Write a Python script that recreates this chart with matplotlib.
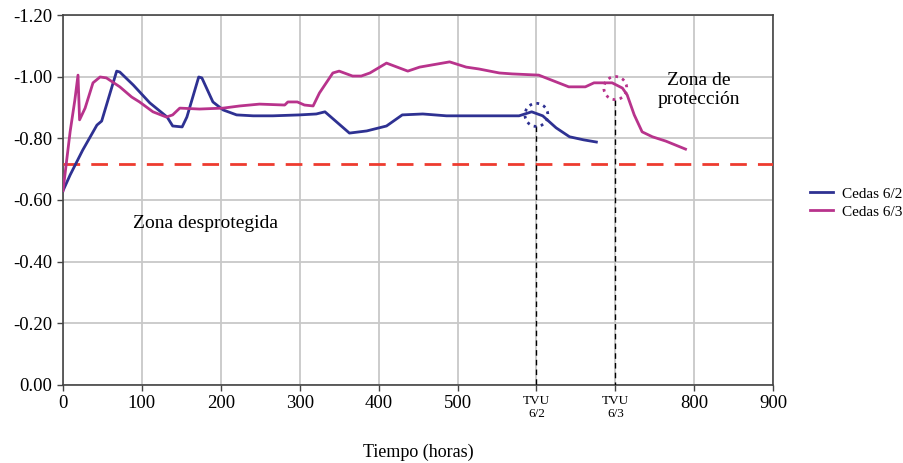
import numpy as np
import matplotlib
matplotlib.use('Agg')
import matplotlib.pyplot as plt
from matplotlib.patches import Ellipse

plt.rcParams['font.family'] = ['Liberation Serif', 'DejaVu Serif']

# Cedas 6/2 (potential vs time)
hours_62 = [0, 9, 25, 43, 49, 68, 72, 89, 110, 132, 139, 151, 157, 172, 176, 190, 203,
            220, 241, 266, 300, 321, 332, 363, 385, 410, 430, 456, 486, 578, 594, 608,
            625, 642, 660, 676]
pot_62 = [-0.63, -0.681, -0.762, -0.843, -0.856, -1.018, -1.015, -0.973, -0.915, -0.869,
          -0.840, -0.837, -0.869, -0.999, -0.996, -0.918, -0.892, -0.876, -0.873, -0.873,
          -0.876, -0.879, -0.886, -0.817, -0.824, -0.840, -0.876, -0.879, -0.873, -0.873,
          -0.886, -0.873, -0.834, -0.805, -0.795, -0.788]

# Cedas 6/3
hours_63 = [0, 9, 15, 19, 21, 28, 38, 47, 55, 72, 87, 97, 114, 131, 139, 148, 173, 203,
            224, 249, 281, 285, 297, 306, 317, 325, 342, 350, 367, 378, 389, 410, 437,
            452, 490, 511, 527, 553, 569, 603, 625, 641, 662, 673, 696, 709, 715, 724,
            734, 747, 764, 789]
pot_63 = [-0.63, -0.821, -0.924, -1.005, -0.860, -0.898, -0.980, -0.999, -0.996, -0.967,
          -0.934, -0.918, -0.886, -0.869, -0.876, -0.898, -0.895, -0.898, -0.905, -0.911,
          -0.908, -0.918, -0.918, -0.908, -0.905, -0.947, -1.012, -1.018, -1.002, -1.002,
          -1.012, -1.044, -1.018, -1.031, -1.048, -1.031, -1.025, -1.012, -1.009, -1.005,
          -0.983, -0.967, -0.967, -0.980, -0.980, -0.963, -0.941, -0.876, -0.821, -0.805,
          -0.791, -0.765]

threshold = -0.717
tvu_hours = [600, 700]
tvu_values = [-0.876, -0.963]
tvu_labels = ['TVU\n6/2', 'TVU\n6/3']

blue = '#2E3192'
magenta = '#B8338C'

fig = plt.figure(figsize=(9.04, 4.63), dpi=100)
ax = fig.add_axes([0.0697, 0.1685, 0.7855, 0.7991])

ax.plot(hours_62, pot_62, color=blue, lw=2, label='Cedas 6/2', zorder=4)
ax.plot(hours_63, pot_63, color=magenta, lw=2, label='Cedas 6/3', zorder=4)
ax.axhline(threshold, color='#EE3B2F', lw=2, dashes=(6, 4), zorder=3)

# TVU markers: dotted circles and dashed drop lines
for h, v, c in zip(tvu_hours, tvu_values, [blue, magenta]):
    ax.add_patch(Ellipse((h, v), 29, 0.075, fill=False, ec=c, lw=2,
                         linestyle=(0, (1, 1.6)), zorder=5))
    ax.plot([h, h], [v + 0.0375, 0], color='black', lw=1, dashes=(4, 3), zorder=4)

ax.set_xlim(0, 900)
ax.set_ylim(0, -1.2)
xt = np.arange(0, 1000, 100)
ax.set_xticks(xt)
labels = [str(t) for t in xt]
for h, lab in zip(tvu_hours, tvu_labels):
    labels[list(xt).index(h)] = lab
ax.set_xticklabels(labels)
for t in ax.get_xticklabels():
    if 'TVU' in t.get_text():
        t.set_fontsize(9.5)
        t.set_linespacing(1.1)
    else:
        t.set_fontsize(13.5)
yt = [0, -0.2, -0.4, -0.6, -0.8, -1.0, -1.2]
ax.set_yticks(yt)
ax.set_yticklabels(['%.2f' % abs(v) if v == 0 else '%.2f' % v for v in yt], fontsize=13.5)

ax.grid(True, color='#C8C8C8', lw=1.3, zorder=0)
ax.set_axisbelow(True)
for s in ax.spines.values():
    s.set_color('#444444')
    s.set_linewidth(1.2)
ax.tick_params(axis='both', colors='#444444', labelcolor='black', length=4, width=1)

ax.set_xlabel('Tiempo (horas)', fontsize=13, labelpad=17)

ax.text(180, -0.524, 'Zona desprotegida', fontsize=14, ha='center', va='center')
ax.text(806, -0.957, 'Zona de\nprotección', fontsize=14, ha='center', va='center',
        linespacing=1.2)

fig.legend(loc='center left', bbox_to_anchor=(0.896, 0.562), frameon=False,
           fontsize=11, handlelength=1.5, handletextpad=0.6, borderpad=0,
           borderaxespad=0, labelspacing=0.3)

fig.savefig('out.png', dpi=100)
